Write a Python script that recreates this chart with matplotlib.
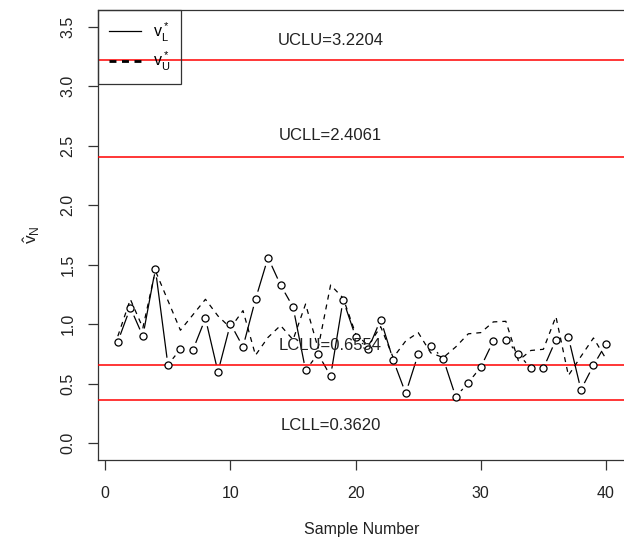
import numpy as np
import matplotlib.pyplot as plt
from matplotlib.lines import Line2D

# sample numbers and the two series
sample = np.arange(1, 41)
v_l = [0.855, 1.14, 0.90, 1.465, 0.66, 0.79, 0.785, 1.05, 0.60, 1.005,
       0.81, 1.21, 1.56, 1.33, 1.145, 0.615, 0.75, 0.565, 1.205, 0.895,
       0.79, 1.04, 0.70, 0.42, 0.75, 0.82, 0.71, 0.39, 0.51, 0.64,
       0.86, 0.87, 0.75, 0.63, 0.63, 0.87, 0.89, 0.45, 0.655, 0.835]
v_u = [0.90, 1.21, 0.97, 1.45, 1.20, 0.95, 1.08, 1.21, 1.07, 0.97,
       1.115, 0.74, 0.89, 0.99, 0.87, 1.17, 0.80, 1.33, 1.22, 0.92,
       0.82, 0.98, 0.72, 0.86, 0.93, 0.76, 0.72, 0.81, 0.92, 0.93,
       1.02, 1.025, 0.695, 0.78, 0.79, 1.065, 0.57, 0.73, 0.885, 0.71]

# control limits
limit_names = ['UCLU', 'UCLL', 'LCLU', 'LCLL']
limit_vals = [3.2204, 2.4061, 0.6554, 0.3620]
label_y = [3.38, 2.59, 0.82, 0.15]
label_x = 18

yticks = [0.0, 0.5, 1.0, 1.5, 2.0, 2.5, 3.0, 3.5]
xticks = [0, 10, 20, 30, 40]

plt.rcParams['font.family'] = ['Liberation Sans', 'DejaVu Sans']
plt.rcParams['mathtext.fontset'] = 'custom'
plt.rcParams['mathtext.rm'] = 'Liberation Sans'
plt.rcParams['mathtext.it'] = 'Liberation Sans'

fig = plt.figure(figsize=(6.24, 5.41), dpi=100)
ax = fig.add_axes([98.3 / 624, 81 / 541, 527.2 / 624, 450 / 541])

# type="b" look: line with gaps around the open circles
ax.plot(sample, v_l, color='black', lw=0.9, zorder=2)
ax.scatter(sample, v_l, s=110, color='white', zorder=3)
for v in limit_vals:
    ax.axhline(v, color='red', lw=1.1, zorder=3.5)
ax.plot(sample, v_u, color='black', lw=0.9, ls=(0, (4, 4)), zorder=4)
ax.scatter(sample, v_l, s=26, facecolor='white', edgecolor='black',
           linewidth=0.9, zorder=5)

for name, val, ly in zip(limit_names, limit_vals, label_y):
    ax.text(label_x, ly, f'{name}={val:.4f}', fontsize=12,
            ha='center', va='center', color='#222222', zorder=6)

ax.set_xlim(-0.56, 41.56)
ax.set_ylim(-0.14, 3.64)
ax.set_xticks(xticks)
ax.set_yticks(yticks)
ax.set_yticklabels([f'{t:.1f}' for t in yticks], rotation=90, va='center')
ax.tick_params(direction='out', length=7.5, width=0.9, labelsize=11.5,
               pad=9, colors='#333333', labelcolor='#222222')
ax.tick_params(axis='x', pad=11)
for side in ['top', 'left', 'bottom']:
    ax.spines[side].set_linewidth(0.9)
    ax.spines[side].set_color('#333333')
ax.spines['right'].set_visible(False)

ax.set_xlabel('Sample Number', fontsize=11.5, labelpad=15.5, color='#222222')
ax.set_ylabel(r'$\hat{v}_N$', fontsize=12.5, labelpad=13, rotation=90,
              color='#222222')

handles = [Line2D([], [], color='black', lw=0.9),
           Line2D([], [], color='black', lw=2, ls=(0, (2.5, 2)))]
leg = ax.legend(handles, [r'$v_L^*$', r'$v_U^*$'], loc='upper left',
                borderaxespad=0, fontsize=11.5, frameon=True, fancybox=False,
                handlelength=2, handletextpad=0.8, borderpad=0.65,
                labelspacing=0.4)
leg.get_frame().set_edgecolor('#333333')
leg.get_frame().set_linewidth(0.9)
leg.get_frame().set_alpha(None)
leg.get_frame().set_facecolor('none')

fig.savefig('out.png', dpi=100)
